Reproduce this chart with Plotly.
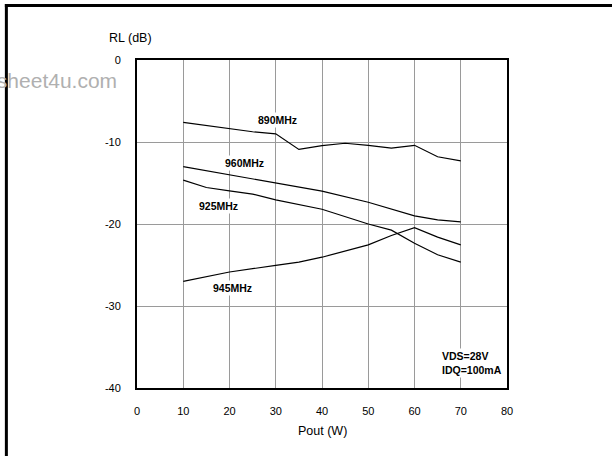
import plotly.graph_objects as go

# ---- data ----
x_890 = [10, 20, 25, 30, 35, 40, 45, 50, 55, 60, 65, 70]
rl_890 = [-7.6, -8.4, -8.75, -9.0, -10.9, -10.45, -10.15, -10.4, -10.75, -10.4, -11.8, -12.3]

x_960 = [10, 20, 30, 40, 50, 55, 60, 65, 70]
rl_960 = [-13.0, -14.0, -15.05, -16.0, -17.35, -18.2, -19.0, -19.5, -19.75]

x_925 = [10, 15, 20, 25, 30, 40, 50, 55, 60, 65, 70]
rl_925 = [-14.65, -15.55, -15.95, -16.35, -17.05, -18.2, -20.0, -20.75, -22.35, -23.75, -24.65]

x_945 = [10, 20, 30, 35, 40, 45, 50, 55, 60, 65, 70]
rl_945 = [-27.0, -25.85, -25.05, -24.65, -24.05, -23.3, -22.55, -21.4, -20.45, -21.6, -22.55]

series_names = ["890MHz", "960MHz", "925MHz", "945MHz"]
label_x = [30.45, 23.3, 17.7, 20.7]
label_y = [-7.3, -12.6, -17.8, -27.8]

x_ticks = [0, 10, 20, 30, 40, 50, 60, 70, 80]
y_ticks = [0, -10, -20, -30, -40]

# ---- layout geometry ----
W, H = 612, 456
L, R, T, B = 137, 104.5, 60, 68
PW, PH = W - L - R, H - T - B


def px(xp):
    return (xp - L) / PW


def py(yp):
    return (H - B - yp) / PH


FONT = "Liberation Sans, Arial, Helvetica, sans-serif"

fig = go.Figure()
for xs, ys, name in zip([x_890, x_960, x_925, x_945], [rl_890, rl_960, rl_925, rl_945], series_names):
    fig.add_trace(go.Scatter(x=xs, y=ys, mode="lines", name=name,
                             line=dict(color="black", width=1.2), showlegend=False))

annotations = []
for name, lx, ly in zip(series_names, label_x, label_y):
    annotations.append(dict(x=lx, y=ly, xref="x", yref="y", text="<b>%s</b>" % name,
                            xanchor="center", yanchor="middle",
                            showarrow=False, font=dict(family=FONT, size=10.5, color="black"),
                            bgcolor="white", borderpad=1))

annotations.append(dict(x=65.6, y=-37.0, xref="x", yref="y", xanchor="left", yanchor="middle",
                        text="<b>VDS=28V</b><br><b>IDQ=100mA</b>", align="left",
                        showarrow=False, font=dict(family=FONT, size=10.5, color="black"),
                        bgcolor="white", borderpad=1))

annotations.append(dict(x=px(130.7), y=py(38.3), xref="paper", yref="paper",
                        xanchor="center", yanchor="middle",
                        text="RL (dB)", showarrow=False,
                        font=dict(family=FONT, size=12.5, color="black")))
annotations.append(dict(x=px(323), y=py(431), xref="paper", yref="paper",
                        xanchor="center", yanchor="middle",
                        text="Pout (W)", showarrow=False,
                        font=dict(family=FONT, size=12.5, color="black")))
annotations.append(dict(x=px(119), y=py(81), xref="paper", yref="paper",
                        xanchor="right", yanchor="middle",
                        text="datasheet4u.com", showarrow=False,
                        font=dict(family=FONT, size=21, color="#b0b0b0")))

shapes = [
    dict(type="line", xref="paper", yref="paper", x0=px(6.2), x1=px(6.2), y0=py(4), y1=py(470),
         line=dict(color="black", width=3)),
    dict(type="line", xref="paper", yref="paper", x0=px(4.7), x1=px(620), y0=py(5.5), y1=py(5.5),
         line=dict(color="black", width=3)),
]

fig.update_layout(
    width=W, height=H, autosize=False,
    margin=dict(l=L, r=R, t=T, b=B, pad=0, autoexpand=False),
    paper_bgcolor="white", plot_bgcolor="white",
    font=dict(family=FONT, size=11, color="black"),
    annotations=annotations, shapes=shapes,
    xaxis=dict(range=[0, 80], tickvals=x_ticks, ticktext=[str(v) for v in x_ticks],
               showgrid=True, gridcolor="#9a9a9a", gridwidth=1,
               showline=True, linecolor="black", linewidth=2, mirror=True,
               ticks="", ticklabelstandoff=12, zeroline=False,
               tickfont=dict(family=FONT, size=11, color="black")),
    yaxis=dict(range=[-40, 0], tickvals=y_ticks, ticktext=[str(v) for v in y_ticks],
               showgrid=True, gridcolor="#9a9a9a", gridwidth=1,
               showline=True, linecolor="black", linewidth=2, mirror=True,
               ticks="", ticklabelstandoff=12, zeroline=False,
               tickfont=dict(family=FONT, size=11, color="black")),
)

fig.write_html("out.html", config={"displayModeBar": False},
               post_script="document.body.style.margin='0px';document.body.style.overflow='hidden';")
